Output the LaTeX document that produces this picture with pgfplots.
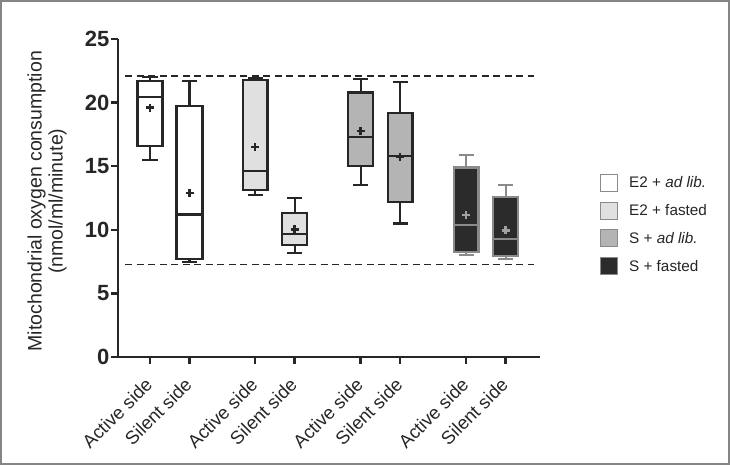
\documentclass[border=0pt]{standalone}
\usepackage{fontspec}
\setmainfont{Liberation Sans}
\usepackage{pgfplots}
\pgfplotsset{compat=1.18}
\usepgfplotslibrary{statistics}
\definecolor{boxA}{HTML}{FFFFFF}
\definecolor{boxB}{HTML}{E0E0E0}
\definecolor{boxC}{HTML}{B4B4B4}
\definecolor{boxD}{HTML}{2B2B2B}
\definecolor{edgeD}{HTML}{8A8A8A}
\definecolor{ink}{HTML}{262626}
\definecolor{frame}{HTML}{858585}
\begin{document}
\begin{tikzpicture}
\draw[frame, line width=1.6pt] (0.8pt,0.8pt) rectangle (729.2pt,464.2pt);
\begin{axis}[
  at={(118pt,108pt)}, anchor=south west,
  scale only axis, width=422pt, height=318pt,
  xmin=-0.81, xmax=9.87, ymin=0, ymax=25,
  boxplot/draw direction=y,
  axis lines=left,
  axis line style={-, line width=2.8pt, ink},
  tick style={line width=2.4pt, ink},
  tick align=outside, major tick length=7pt,
  ytick={0,5,10,15,20,25},
  xtick={0,1,2.66,3.66,5.33,6.33,8,9},
  xticklabels={Active side,Silent side,Active side,Silent side,Active side,Silent side,Active side,Silent side},
  /pgf/number format/assume math mode=true,
  yticklabel style={font=\bfseries\fontsize{22}{22}\selectfont, inner sep=1.5pt, text=ink},
  xticklabel style={xshift=-6pt, yshift=-11pt, rotate=45, anchor=north east, font=\fontsize{18.5}{19}\selectfont, inner sep=1pt, text=ink},
  ylabel={Mitochondrial oxygen consumption\\(nmol/ml/minute)},
  ylabel style={at={(axis description cs:-0.168,0.49)}, anchor=center, align=center, font=\fontsize{19.5}{21}\selectfont, text=ink},
  legend image code/.code={\draw[#1, line width=0.9pt] (0pt,-8.5pt) rectangle (17pt,8.5pt);},
  legend style={draw=none, fill=none, at={(1.1422,0.4167)}, anchor=west, inner sep=0pt,
    font=\fontsize{15.3}{16}\selectfont, row sep=10pt, text=ink,
    /tikz/every odd column/.append style={column sep=9pt}},
  legend cell align=left,
  clip=false,
]
\addlegendimage{fill=boxA, draw=edgeD}
\addlegendentry{E2 + \textit{ad lib.}}
\addlegendimage{fill=boxB, draw=edgeD}
\addlegendentry{E2 + fasted}
\addlegendimage{fill=boxC, draw=edgeD}
\addlegendentry{S + \textit{ad lib.}}
\addlegendimage{fill=boxD, draw=edgeD}
\addlegendentry{S + fasted}

% reference range lines
\addplot[forget plot, ink, line width=1.5pt, dash pattern=on 7pt off 4.5pt] coordinates {(-0.63,22.1) (9.72,22.1)};
\addplot[forget plot, ink, line width=1.5pt, dash pattern=on 7pt off 4.5pt] coordinates {(-0.63,7.29) (9.72,7.29)};

% E2 + ad lib.
\addplot[forget plot, fill=boxA, draw=ink, line width=2.2pt, boxplot prepared={draw position=0, lower whisker=15.5, lower quartile=16.56, median=20.44, upper quartile=21.7, upper whisker=22.0, box extend=0.63, whisker extend=0.38}] coordinates {};
\addplot[forget plot, fill=boxA, draw=ink, line width=2.2pt, boxplot prepared={draw position=1, lower whisker=7.45, lower quartile=7.7, median=11.2, upper quartile=19.76, upper whisker=21.7, box extend=0.66, whisker extend=0.38}] coordinates {};
% E2 + fasted
\addplot[forget plot, fill=boxB, draw=ink, line width=2.2pt, boxplot prepared={draw position=2.66, lower whisker=12.76, lower quartile=13.15, median=14.6, upper quartile=21.8, upper whisker=21.9, box extend=0.63, whisker extend=0.38}] coordinates {};
\addplot[forget plot, fill=boxB, draw=ink, line width=2.2pt, boxplot prepared={draw position=3.66, lower whisker=8.2, lower quartile=8.78, median=9.64, upper quartile=11.35, upper whisker=12.47, box extend=0.63, whisker extend=0.38}] coordinates {};
% S + ad lib.
\addplot[forget plot, fill=boxC, draw=ink, line width=2.2pt, boxplot prepared={draw position=5.33, lower whisker=13.5, lower quartile=15.0, median=17.3, upper quartile=20.8, upper whisker=21.86, box extend=0.63, whisker extend=0.38}] coordinates {};
\addplot[forget plot, fill=boxC, draw=ink, line width=2.2pt, boxplot prepared={draw position=6.33, lower whisker=10.5, lower quartile=12.19, median=15.8, upper quartile=19.16, upper whisker=21.6, box extend=0.63, whisker extend=0.38}] coordinates {};
% S + fasted
\addplot[forget plot, fill=boxD, draw=edgeD, line width=2.2pt, boxplot prepared={draw position=8, lower whisker=8.04, lower quartile=8.23, median=10.4, upper quartile=14.9, upper whisker=15.85, box extend=0.63, whisker extend=0.38}] coordinates {};
\addplot[forget plot, fill=boxD, draw=edgeD, line width=2.2pt, boxplot prepared={draw position=9, lower whisker=7.73, lower quartile=7.96, median=9.25, upper quartile=12.58, upper whisker=13.5, box extend=0.63, whisker extend=0.38}] coordinates {};

% means
\addplot[forget plot, only marks, mark=+, mark size=4pt, line width=2.4pt, ink] coordinates {(0,19.6) (1,12.9) (2.66,16.5) (3.66,10.03) (5.33,17.77) (6.33,15.72)};
\addplot[forget plot, only marks, mark=+, mark size=4pt, line width=2.4pt, edgeD!80] coordinates {(8,11.16) (9,9.96)};
\end{axis}
\end{tikzpicture}
\end{document}
